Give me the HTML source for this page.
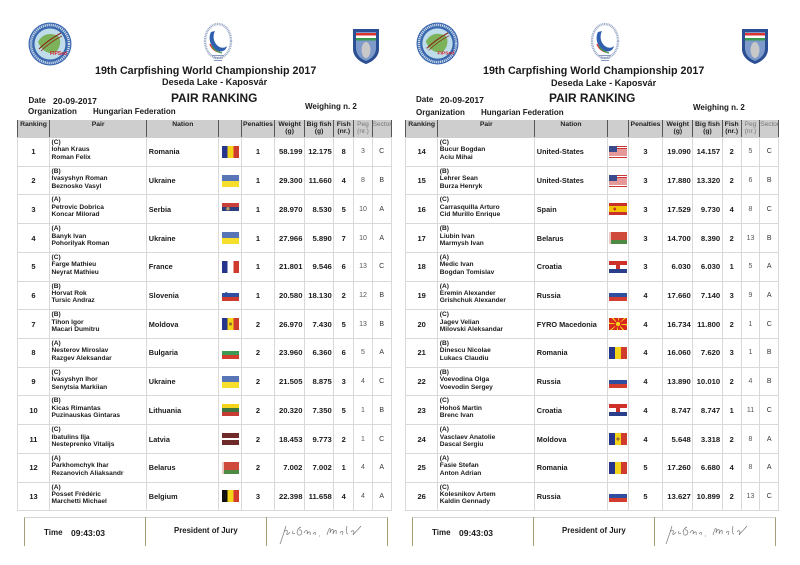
<!DOCTYPE html>
<html><head><meta charset="utf-8"><style>
*{box-sizing:border-box}
body{margin:0;width:800px;height:565px;position:relative;overflow:hidden;background:#fff;font-family:"Liberation Sans",Arial,sans-serif;font-weight:bold;color:#1a1a1a}
.a{position:absolute;white-space:nowrap;line-height:1}
table{position:absolute;border-collapse:collapse;table-layout:fixed;top:120px}
td,th{padding:0;border:1px solid #d9d9d9;white-space:nowrap;overflow:hidden}
th{background:#cecece;border-left:1px solid #555;border-right:1px solid #555;border-top:none;border-bottom:1px solid #cecece;font-size:6.8px;line-height:7px;vertical-align:top;text-align:center;font-weight:bold;color:#222;padding-top:1px}
th.l{color:#777;font-weight:normal;font-size:6.5px}
tr.hd{height:17.5px}
tr.r{height:28.73px}
td{vertical-align:middle;text-align:center;font-size:7.5px}
td.p{text-align:left;vertical-align:top;font-size:6.6px;line-height:7.4px;padding:1px 0 0 1.5px}
td.n{text-align:left;font-size:7.3px;padding-left:1.5px}
td.w{text-align:right;padding-right:1.5px;font-size:7.7px}
td.g{font-weight:normal;color:#555;font-size:7px}
td.s{font-weight:normal;color:#333;font-size:7px}
.f{display:block;width:17px;height:12px;margin-left:2.7px}
.R .f{width:18.3px;margin-left:1px}
.ro{background:linear-gradient(90deg,#27358a 0 33.3%,#f3d41b 33.3% 66.6%,#cf3b2d 66.6%)}
.ua{background:linear-gradient(#5876b6 0 50%,#f5df2c 50%)}
.rs{background:radial-gradient(circle at 35% 48%,#b39a6a 0 1.6px,transparent 1.9px),linear-gradient(#c9403a 0 33.3%,#2d3f7f 33.3% 66.6%,#fff 66.6%)}
.fr{background:linear-gradient(90deg,#27358a 0 33.3%,#fff 33.3% 66.6%,#cf3b2d 66.6%)}
.si{background:radial-gradient(circle at 25% 40%,#2e4fa0 0 1.5px,transparent 1.8px),linear-gradient(#fff 0 33.3%,#2e4fa0 33.3% 66.6%,#cf3b2d 66.6%)}
.md{background:radial-gradient(circle at 50% 50%,#9a6a2a 0 1.5px,transparent 1.8px),linear-gradient(90deg,#27358a 0 33.3%,#f3d41b 33.3% 66.6%,#cf3b2d 66.6%)}
.bg{background:linear-gradient(#fff 0 33.3%,#3c9a52 33.3% 66.6%,#d33d30 66.6%)}
.lt{background:linear-gradient(#f3d41b 0 33.3%,#3a7440 33.3% 66.6%,#c63c34 66.6%)}
.lv{background:linear-gradient(#6f2a2a 0 40%,#fff 40% 60%,#6f2a2a 60%)}
.by{background:linear-gradient(90deg,#e8c8c0 0 2px,transparent 2px),linear-gradient(#cf4a3a 0 66%,#4f8a45 66%)}
.be{background:linear-gradient(90deg,#111 0 33.3%,#f3d41b 33.3% 66.6%,#d33d30 66.6%)}
.us{background:linear-gradient(#3a4a8a,#3a4a8a) no-repeat 0 0/45% 54%,repeating-linear-gradient(#c33 0 0.92px,#fff 0.92px 1.85px)}
.es{background:radial-gradient(circle at 32% 50%,#c8302a 0 1.3px,transparent 1.6px),linear-gradient(#c8302a 0 25%,#f3c200 25% 75%,#c8302a 75%)}
.hr{background:linear-gradient(#c8302a,#c8302a) no-repeat 50% 50%/4px 4px,linear-gradient(#d0302a 0 33.3%,#fff 33.3% 66.6%,#2a3f8c 66.6%)}
.ru{background:linear-gradient(#fff 0 33.3%,#2e4fa0 33.3% 66.6%,#d33d30 66.6%)}
.mk{background:radial-gradient(circle,#f7d417 0 2px,#d8291f 2.3px 3px,transparent 3.2px),repeating-conic-gradient(#f7d417 0 9deg,#d8291f 9deg 45deg)}
.ft{position:absolute;top:517px;height:29px;border-top:1px solid #d4d4d4;border-left:1px solid #a39e78;border-right:1px solid #a39e78}
.dv{position:absolute;top:517px;height:29px;width:1px;background:#a39e78}
</style></head><body>

<!-- ========== LEFT PAGE ========== -->
<svg class="a" style="left:28px;top:22px" width="44" height="44" viewBox="0 0 44 44">
<circle cx="22" cy="22" r="21.5" fill="#3a68ae"/>
<circle cx="22" cy="22" r="19" fill="none" stroke="#c9d8ec" stroke-width="2.5" stroke-dasharray="1.2 0.8"/>
<circle cx="22" cy="22" r="15.5" fill="#bfdcea"/>
<path d="M10 20 C14 12 22 10 30 14 C34 18 32 26 28 30 C22 33 14 30 10 20Z" fill="#7cb35a"/>
<path d="M11 27 C16 22 24 16 33 11" stroke="#8a2a1a" stroke-width="1.2" fill="none"/>
<path d="M13 29 C18 24 26 18 34 14" stroke="#8a2a1a" stroke-width="0.8" fill="none"/>
<text x="22" y="33" font-size="5" fill="#d0202a" font-family="Liberation Sans" font-weight="bold">FIPSed</text>
</svg>
<svg class="a" style="left:202px;top:22px" width="32" height="42" viewBox="0 0 32 42">
<ellipse cx="16" cy="19" rx="13" ry="17" fill="none" stroke="#9aa8c8" stroke-width="2.4" stroke-dasharray="1 0.7"/>
<path d="M9 10 C6 16 8 24 14 28 C19 31 24 29 25 24 C22 27 17 26 14 22 C11 18 11 13 13 9Z" fill="#2f5fae"/>
<path d="M8 22 C10 27 14 30 18 30" stroke="#d33" stroke-width="1.4" fill="none"/>
<path d="M10 24 C12 28 15 30 20 31" stroke="#3a9a50" stroke-width="1.2" fill="none"/>
<rect x="10" y="33" width="12" height="1" fill="#8899bb"/><rect x="11" y="35.5" width="10" height="1" fill="#8899bb"/><rect x="12" y="38" width="8" height="1" fill="#8899bb"/>
</svg>
<svg class="a" style="left:352px;top:26px" width="28" height="40" viewBox="0 0 28 40">
<path d="M1 3 L27 3 L27 23 C27 31 20 36 14 38 C8 36 1 31 1 23Z" fill="#2c4f94"/>
<path d="M4 6 L24 6 L24 22 C24 29 19 33 14 35 C9 33 4 29 4 22Z" fill="#7d9acb"/>
<rect x="4" y="7" width="20" height="2.5" fill="#d33"/><rect x="4" y="9.5" width="20" height="2.5" fill="#fff"/><rect x="4" y="12" width="20" height="2.5" fill="#3a9a50"/>
<ellipse cx="14" cy="24" rx="4.5" ry="8" fill="#c8c8c8"/>
</svg>

<div class="a" style="left:95px;top:66.3px;font-size:10.7px">19th Carpfishing World Championship 2017</div>
<div class="a" style="left:162px;top:78.2px;font-size:9.1px">Deseda Lake - Kaposvár</div>
<div class="a" style="left:28.5px;top:96.6px;font-size:8px">Date</div>
<div class="a" style="left:53px;top:96.5px;font-size:8.6px">20-09-2017</div>
<div class="a" style="left:171px;top:93.3px;font-size:11.9px">PAIR RANKING</div>
<div class="a" style="left:28px;top:108px;font-size:8px">Organization</div>
<div class="a" style="left:93px;top:108px;font-size:8px">Hungarian Federation</div>
<div class="a" style="left:305px;top:103.2px;font-size:8px">Weighing n. 2</div>

<table style="left:17px;width:373.7px">
<colgroup><col style="width:32px"><col style="width:97.3px"><col style="width:72px"><col style="width:22.4px"><col style="width:33.6px"><col style="width:29.7px"><col style="width:29.3px"><col style="width:20px"><col style="width:18.4px"><col style="width:19px"></colgroup>
<tr class="hd"><th>Ranking</th><th>Pair</th><th>Nation</th><th></th><th>Penalties</th><th>Weight<br>(g)</th><th>Big fish<br>(g)</th><th>Fish<br>(nr.)</th><th class="l">Peg<br>(nr.)</th><th class="l">Sector</th></tr>
<tr class="r"><td>1</td><td class="p">(C)<br>Iohan Kraus<br>Roman Felix</td><td class="n">Romania</td><td><div class="f ro"></div></td><td>1</td><td class="w">58.199</td><td class="w">12.175</td><td>8</td><td class="g">3</td><td class="s">C</td></tr>
<tr class="r"><td>2</td><td class="p">(B)<br>Ivasyshyn Roman<br>Beznosko Vasyl</td><td class="n">Ukraine</td><td><div class="f ua"></div></td><td>1</td><td class="w">29.300</td><td class="w">11.660</td><td>4</td><td class="g">8</td><td class="s">B</td></tr>
<tr class="r"><td>3</td><td class="p">(A)<br>Petrovic Dobrica<br>Koncar Milorad</td><td class="n">Serbia</td><td><div class="f rs"></div></td><td>1</td><td class="w">28.970</td><td class="w">8.530</td><td>5</td><td class="g">10</td><td class="s">A</td></tr>
<tr class="r"><td>4</td><td class="p">(A)<br>Banyk Ivan<br>Pohorilyak Roman</td><td class="n">Ukraine</td><td><div class="f ua"></div></td><td>1</td><td class="w">27.966</td><td class="w">5.890</td><td>7</td><td class="g">10</td><td class="s">A</td></tr>
<tr class="r"><td>5</td><td class="p">(C)<br>Farge Mathieu<br>Neyrat Mathieu</td><td class="n">France</td><td><div class="f fr"></div></td><td>1</td><td class="w">21.801</td><td class="w">9.546</td><td>6</td><td class="g">13</td><td class="s">C</td></tr>
<tr class="r"><td>6</td><td class="p">(B)<br>Horvat Rok<br>Tursic Andraz</td><td class="n">Slovenia</td><td><div class="f si"></div></td><td>1</td><td class="w">20.580</td><td class="w">18.130</td><td>2</td><td class="g">12</td><td class="s">B</td></tr>
<tr class="r"><td>7</td><td class="p">(B)<br>Tihon Igor<br>Macari Dumitru</td><td class="n">Moldova</td><td><div class="f md"></div></td><td>2</td><td class="w">26.970</td><td class="w">7.430</td><td>5</td><td class="g">13</td><td class="s">B</td></tr>
<tr class="r"><td>8</td><td class="p">(A)<br>Nesterov Miroslav<br>Razgev Aleksandar</td><td class="n">Bulgaria</td><td><div class="f bg"></div></td><td>2</td><td class="w">23.960</td><td class="w">6.360</td><td>6</td><td class="g">5</td><td class="s">A</td></tr>
<tr class="r"><td>9</td><td class="p">(C)<br>Ivasyshyn Ihor<br>Senytsia Markiian</td><td class="n">Ukraine</td><td><div class="f ua"></div></td><td>2</td><td class="w">21.505</td><td class="w">8.875</td><td>3</td><td class="g">4</td><td class="s">C</td></tr>
<tr class="r"><td>10</td><td class="p">(B)<br>Kicas Rimantas<br>Puzinauskas Gintaras</td><td class="n">Lithuania</td><td><div class="f lt"></div></td><td>2</td><td class="w">20.320</td><td class="w">7.350</td><td>5</td><td class="g">1</td><td class="s">B</td></tr>
<tr class="r"><td>11</td><td class="p">(C)<br>Ibatulins Ilja<br>Nesteprenko Vitalijs</td><td class="n">Latvia</td><td><div class="f lv"></div></td><td>2</td><td class="w">18.453</td><td class="w">9.773</td><td>2</td><td class="g">1</td><td class="s">C</td></tr>
<tr class="r"><td>12</td><td class="p">(A)<br>Parkhomchyk Ihar<br>Rezanovich Aliaksandr</td><td class="n">Belarus</td><td><div class="f by"></div></td><td>2</td><td class="w">7.002</td><td class="w">7.002</td><td>1</td><td class="g">4</td><td class="s">A</td></tr>
<tr class="r"><td>13</td><td class="p">(A)<br>Posset Frédéric<br>Marchetti Michael</td><td class="n">Belgium</td><td><div class="f be"></div></td><td>3</td><td class="w">22.398</td><td class="w">11.658</td><td>4</td><td class="g">4</td><td class="s">A</td></tr>
</table>

<div class="ft" style="left:24px;width:364px"></div>
<div class="dv" style="left:145px"></div>
<div class="dv" style="left:266px"></div>
<div class="a" style="left:44px;top:529px;font-size:8px">Time</div>
<div class="a" style="left:71px;top:528.8px;font-size:8.5px">09:43:03</div>
<div class="a" style="left:174px;top:527px;font-size:7.8px">President of Jury</div>
<svg class="a" style="left:277px;top:523px" width="90" height="24" viewBox="0 0 90 24"><path d="M3 21 C6 13 8 6 9 3 M7 9 C9 6 11 7 10 10 C9 13 12 11 13 9 M16 8 C15 10 16 12 18 10 M24 4 C19 6 19 13 23 12 C26 11 25 6 22 7 M27 10 C29 6 31 7 30 11 C32 8 34 8 33 12 M36 11 C38 8 39 9 38 12 M42 13 L43 13 M50 12 C52 4 54 3 53 10 C55 5 57 5 56 11 C58 6 60 6 59 11 M63 10 C65 7 67 8 65 12 M70 3 C69 7 69 11 71 11 M74 9 C76 6 78 8 76 12 C78 9 80 8 84 3" stroke="#777" stroke-width="0.7" fill="none"/></svg>

<!-- ========== RIGHT PAGE ========== -->
<svg class="a" style="left:416px;top:22px" width="43" height="43" viewBox="0 0 44 44">
<circle cx="22" cy="22" r="21.5" fill="#3a68ae"/>
<circle cx="22" cy="22" r="19" fill="none" stroke="#c9d8ec" stroke-width="2.5" stroke-dasharray="1.2 0.8"/>
<circle cx="22" cy="22" r="15.5" fill="#bfdcea"/>
<path d="M10 20 C14 12 22 10 30 14 C34 18 32 26 28 30 C22 33 14 30 10 20Z" fill="#7cb35a"/>
<path d="M11 27 C16 22 24 16 33 11" stroke="#8a2a1a" stroke-width="1.2" fill="none"/>
<path d="M13 29 C18 24 26 18 34 14" stroke="#8a2a1a" stroke-width="0.8" fill="none"/>
<text x="22" y="33" font-size="5" fill="#d0202a" font-family="Liberation Sans" font-weight="bold">FIPSed</text>
</svg>
<svg class="a" style="left:589px;top:22px" width="32" height="42" viewBox="0 0 32 42">
<ellipse cx="16" cy="19" rx="13" ry="17" fill="none" stroke="#9aa8c8" stroke-width="2.4" stroke-dasharray="1 0.7"/>
<path d="M9 10 C6 16 8 24 14 28 C19 31 24 29 25 24 C22 27 17 26 14 22 C11 18 11 13 13 9Z" fill="#2f5fae"/>
<path d="M8 22 C10 27 14 30 18 30" stroke="#d33" stroke-width="1.4" fill="none"/>
<path d="M10 24 C12 28 15 30 20 31" stroke="#3a9a50" stroke-width="1.2" fill="none"/>
<rect x="10" y="33" width="12" height="1" fill="#8899bb"/><rect x="11" y="35.5" width="10" height="1" fill="#8899bb"/><rect x="12" y="38" width="8" height="1" fill="#8899bb"/>
</svg>
<svg class="a" style="left:741px;top:26px" width="28" height="40" viewBox="0 0 28 40">
<path d="M1 3 L27 3 L27 23 C27 31 20 36 14 38 C8 36 1 31 1 23Z" fill="#2c4f94"/>
<path d="M4 6 L24 6 L24 22 C24 29 19 33 14 35 C9 33 4 29 4 22Z" fill="#7d9acb"/>
<rect x="4" y="7" width="20" height="2.5" fill="#d33"/><rect x="4" y="9.5" width="20" height="2.5" fill="#fff"/><rect x="4" y="12" width="20" height="2.5" fill="#3a9a50"/>
<ellipse cx="14" cy="24" rx="4.5" ry="8" fill="#c8c8c8"/>
</svg>

<div class="a" style="left:483px;top:66.3px;font-size:10.7px">19th Carpfishing World Championship 2017</div>
<div class="a" style="left:551px;top:78.8px;font-size:9.1px">Deseda Lake - Kaposvár</div>
<div class="a" style="left:416px;top:96.4px;font-size:8px">Date</div>
<div class="a" style="left:440px;top:96.3px;font-size:8.6px">20-09-2017</div>
<div class="a" style="left:549px;top:93.1px;font-size:11.9px">PAIR RANKING</div>
<div class="a" style="left:416px;top:108.5px;font-size:8px">Organization</div>
<div class="a" style="left:481px;top:108.5px;font-size:8px">Hungarian Federation</div>
<div class="a" style="left:693px;top:103.8px;font-size:8px">Weighing n. 2</div>

<table class="R" style="left:405px;width:373.3px">
<colgroup><col style="width:32.3px"><col style="width:97px"><col style="width:72.4px"><col style="width:21px"><col style="width:34.6px"><col style="width:30px"><col style="width:29.4px"><col style="width:19px"><col style="width:18.6px"><col style="width:19px"></colgroup>
<tr class="hd"><th>Ranking</th><th>Pair</th><th>Nation</th><th></th><th>Penalties</th><th>Weight<br>(g)</th><th>Big fish<br>(g)</th><th>Fish<br>(nr.)</th><th class="l">Peg<br>(nr.)</th><th class="l">Sector</th></tr>
<tr class="r"><td>14</td><td class="p">(C)<br>Bucur Bogdan<br>Aciu Mihai</td><td class="n">United-States</td><td><div class="f us"></div></td><td>3</td><td class="w">19.090</td><td class="w">14.157</td><td>2</td><td class="g">5</td><td class="s">C</td></tr>
<tr class="r"><td>15</td><td class="p">(B)<br>Lehrer Sean<br>Burza Henryk</td><td class="n">United-States</td><td><div class="f us"></div></td><td>3</td><td class="w">17.880</td><td class="w">13.320</td><td>2</td><td class="g">6</td><td class="s">B</td></tr>
<tr class="r"><td>16</td><td class="p">(C)<br>Carrasquilla Arturo<br>Cid Murillo Enrique</td><td class="n">Spain</td><td><div class="f es"></div></td><td>3</td><td class="w">17.529</td><td class="w">9.730</td><td>4</td><td class="g">8</td><td class="s">C</td></tr>
<tr class="r"><td>17</td><td class="p">(B)<br>Liubin Ivan<br>Marmysh Ivan</td><td class="n">Belarus</td><td><div class="f by"></div></td><td>3</td><td class="w">14.700</td><td class="w">8.390</td><td>2</td><td class="g">13</td><td class="s">B</td></tr>
<tr class="r"><td>18</td><td class="p">(A)<br>Medic Ivan<br>Bogdan Tomislav</td><td class="n">Croatia</td><td><div class="f hr"></div></td><td>3</td><td class="w">6.030</td><td class="w">6.030</td><td>1</td><td class="g">5</td><td class="s">A</td></tr>
<tr class="r"><td>19</td><td class="p">(A)<br>Eremin Alexander<br>Grishchuk Alexander</td><td class="n">Russia</td><td><div class="f ru"></div></td><td>4</td><td class="w">17.660</td><td class="w">7.140</td><td>3</td><td class="g">9</td><td class="s">A</td></tr>
<tr class="r"><td>20</td><td class="p">(C)<br>Jagev Velian<br>Milovski Aleksandar</td><td class="n">FYRO Macedonia</td><td><div class="f mk"></div></td><td>4</td><td class="w">16.734</td><td class="w">11.800</td><td>2</td><td class="g">1</td><td class="s">C</td></tr>
<tr class="r"><td>21</td><td class="p">(B)<br>Dinescu Nicolae<br>Lukacs Claudiu</td><td class="n">Romania</td><td><div class="f ro"></div></td><td>4</td><td class="w">16.060</td><td class="w">7.620</td><td>3</td><td class="g">1</td><td class="s">B</td></tr>
<tr class="r"><td>22</td><td class="p">(B)<br>Voevodina Olga<br>Voevodin Sergey</td><td class="n">Russia</td><td><div class="f ru"></div></td><td>4</td><td class="w">13.890</td><td class="w">10.010</td><td>2</td><td class="g">4</td><td class="s">B</td></tr>
<tr class="r"><td>23</td><td class="p">(C)<br>Hohoš Martin<br>Brenc Ivan</td><td class="n">Croatia</td><td><div class="f hr"></div></td><td>4</td><td class="w">8.747</td><td class="w">8.747</td><td>1</td><td class="g">11</td><td class="s">C</td></tr>
<tr class="r"><td>24</td><td class="p">(A)<br>Vasclaev Anatolie<br>Dascal Sergiu</td><td class="n">Moldova</td><td><div class="f md"></div></td><td>4</td><td class="w">5.648</td><td class="w">3.318</td><td>2</td><td class="g">8</td><td class="s">A</td></tr>
<tr class="r"><td>25</td><td class="p">(A)<br>Fasie Stefan<br>Anton Adrian</td><td class="n">Romania</td><td><div class="f ro"></div></td><td>5</td><td class="w">17.260</td><td class="w">6.680</td><td>4</td><td class="g">8</td><td class="s">A</td></tr>
<tr class="r"><td>26</td><td class="p">(C)<br>Kolesnikov Artem<br>Kaldin Gennady</td><td class="n">Russia</td><td><div class="f ru"></div></td><td>5</td><td class="w">13.627</td><td class="w">10.899</td><td>2</td><td class="g">13</td><td class="s">C</td></tr>
</table>

<div class="ft" style="left:412px;width:364px"></div>
<div class="dv" style="left:533px"></div>
<div class="dv" style="left:654px"></div>
<div class="a" style="left:432px;top:529px;font-size:8px">Time</div>
<div class="a" style="left:459px;top:528.8px;font-size:8.5px">09:43:03</div>
<div class="a" style="left:562px;top:527px;font-size:7.8px">President of Jury</div>
<svg class="a" style="left:663px;top:523px" width="90" height="24" viewBox="0 0 90 24"><path d="M3 21 C6 13 8 6 9 3 M7 9 C9 6 11 7 10 10 C9 13 12 11 13 9 M16 8 C15 10 16 12 18 10 M24 4 C19 6 19 13 23 12 C26 11 25 6 22 7 M27 10 C29 6 31 7 30 11 C32 8 34 8 33 12 M36 11 C38 8 39 9 38 12 M42 13 L43 13 M50 12 C52 4 54 3 53 10 C55 5 57 5 56 11 C58 6 60 6 59 11 M63 10 C65 7 67 8 65 12 M70 3 C69 7 69 11 71 11 M74 9 C76 6 78 8 76 12 C78 9 80 8 84 3" stroke="#777" stroke-width="0.7" fill="none"/></svg>

</body></html>
